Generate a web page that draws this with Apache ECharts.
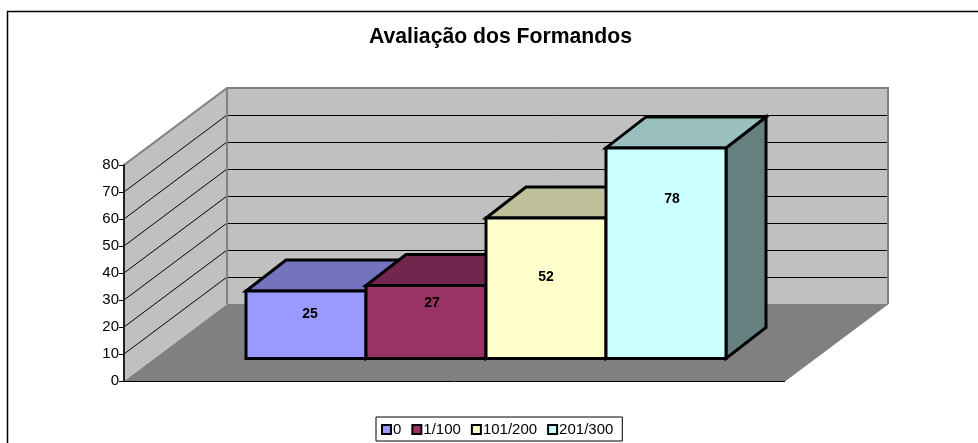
<!DOCTYPE html>
<html>
<head>
<meta charset="utf-8">
<style>
  html, body { margin: 0; padding: 0; background: #fff; }
  #chart { width: 978px; height: 443px; }
</style>
<script src="https://cdn.jsdelivr.net/npm/echarts@6/dist/echarts.min.js"></script>
</head>
<body>
<div id="chart"></div>
<script>
  var categories = ['Formandos']
  var seriesNames = ['0', '1/100', '101/200', '201/300']
  var seriesValues = [[25], [27], [52], [78]]
  var faceColors = ['#9999ff', '#993366', '#ffffcc', '#ccffff']
  var topColors = ['#7373bf', '#73264d', '#bfbf99', '#99bfbf']
  var sideColors = ['#666699', '#662244', '#808066', '#668080']
  var yTicks = [0, 10, 20, 30, 40, 50, 60, 70, 80]

  var font = '"Liberation Sans", Arial, sans-serif'
  // 3d offsets, px
  var wallDx = 103, wallDy = -77
  var baseDx = 31.5, baseDy = -22.5
  var depthDx = 40, depthDy = -31
  var barWidth = 120
  // onde fica o rotulo de cada barra, a partir do centro do topo
  var labelDx = [4, 6, 0, 6]
  var labelDy = [23, 17.5, 59, 51.5]

  function snap(v) {
    return Math.floor(v) + 0.5
  }
  function line(x1, y1, x2, y2, color, width) {
    return {
      type: 'line',
      shape: { x1: x1, y1: y1, x2: x2, y2: y2 },
      style: { stroke: color, lineWidth: width }
    }
  }
  function poly(points, fill, stroke, width) {
    return {
      type: 'polygon',
      shape: { points: points },
      style: { fill: fill, stroke: stroke, lineWidth: width, lineJoin: 'miter' }
    }
  }

  // paredes e chao
  function renderWalls(params, api) {
    var c = params.coordSys
    var left = c.x, right = c.x + c.width
    var y0 = api.coord([0, 0])[1]
    var yMax = api.coord([0, yTicks[yTicks.length - 1]])[1]
    var kids = []
    kids.push(poly([[left, y0], [left + wallDx, y0 + wallDy], [right + wallDx, y0 + wallDy], [right, y0]], '#808080', 'none', 0))
    kids.push(poly([[left, y0], [left, yMax], [left + wallDx, yMax + wallDy], [left + wallDx, y0 + wallDy]], '#c0c0c0', 'none', 0))
    kids.push(poly([[left + wallDx, y0 + wallDy], [left + wallDx, yMax + wallDy], [right + wallDx, yMax + wallDy], [right + wallDx, y0 + wallDy]], '#c0c0c0', 'none', 0))
    yTicks.forEach(function(t) {
      if (t === 0 || t === yTicks[yTicks.length - 1]) return
      var y = api.coord([0, t])[1]
      kids.push(line(left, y, left + wallDx, y + wallDy, '#000', 1))
      kids.push(line(left + wallDx, snap(y + wallDy), right + wallDx, snap(y + wallDy), '#000', 1))
    })
    // contorno cinza
    kids.push({
      type: 'polyline',
      shape: { points: [[left, y0], [left, yMax], [left + wallDx, yMax + wallDy], [right + wallDx, yMax + wallDy], [right + wallDx, y0 + wallDy]] },
      style: { fill: 'none', stroke: '#808080', lineWidth: 2 }
    })
    kids.push(line(left + wallDx, yMax + wallDy, left + wallDx, y0 + wallDy, '#808080', 2))
    kids.push(line(left, snap(y0), right, snap(y0), '#000', 1))
    kids.push(line(right, y0, right + wallDx, y0 + wallDy, '#808080', 1))
    return { type: 'group', children: kids }
  }

  function makeBar(idx) {
    return function(params, api) {
      var v = api.value(1)
      var p0 = api.coord([0, 0]), p1 = api.coord([0, v])
      var total = barWidth * seriesNames.length
      var x0 = p0[0] + baseDx - total / 2 + idx * barWidth
      var x1 = x0 + barWidth
      var yb = p0[1] + baseDy, yt = p1[1] + baseDy
      var lw = 3
      return {
        type: 'group',
        children: [
          poly([[x1, yb], [x1, yt], [x1 + depthDx, yt + depthDy], [x1 + depthDx, yb + depthDy]], sideColors[idx], '#000', lw),
          poly([[x0, yt], [x1, yt], [x1 + depthDx, yt + depthDy], [x0 + depthDx, yt + depthDy]], topColors[idx], '#000', lw),
          poly([[x0, yb], [x0, yt], [x1, yt], [x1, yb]], faceColors[idx], '#000', lw),
          {
            type: 'text',
            z2: 100,
            style: {
              x: (x0 + x1) / 2 + labelDx[idx], y: yt + labelDy[idx],
              text: String(v), fill: '#000', align: 'center', verticalAlign: 'middle',
              font: 'bold 14px ' + font
            }
          }
        ]
      }
    }
  }

  var series = [{
    type: 'custom',
    silent: true,
    renderItem: renderWalls,
    data: [[0, 0]],
    encode: { x: 0, y: 1 },
    legendHoverLink: false
  }]
  seriesNames.forEach(function(name, i) {
    series.push({
      type: 'custom',
      name: name,
      renderItem: makeBar(i),
      encode: { x: 0, y: 1 },
      itemStyle: { color: faceColors[i], borderColor: '#000', borderWidth: 2 },
      data: [[0, seriesValues[i][0]]]
    })
  })

  var chart = echarts.init(document.getElementById('chart'), null, { renderer: 'canvas' })
  chart.setOption({
    animation: false,
    backgroundColor: '#fff',
    title: {
      text: 'Avaliação dos Formandos',
      left: 369,
      top: 27,
      padding: 0,
      textStyle: { fontFamily: font, fontWeight: 'bold', fontSize: 21.2, color: '#000' }
    },
    legend: {
      data: seriesNames,
      left: 376,
      top: 417,
      itemWidth: 9,
      itemHeight: 9,
      itemGap: 10,
      padding: [5, 9, 4, 5],
      borderColor: '#000',
      borderWidth: 1,
      borderRadius: 0,
      icon: 'rect',
      selectedMode: false,
      textStyle: { fontFamily: font, fontSize: 15, color: '#000', padding: [0, 0, 0, -3] }
    },
    grid: { left: 124, right: 193, top: 165, bottom: 62, containLabel: false },
    xAxis: {
      type: 'category',
      data: categories,
      axisLine: { show: false },
      axisTick: { show: false },
      axisLabel: { show: false }
    },
    yAxis: {
      type: 'value',
      z: 5,
      min: 0,
      max: 80,
      interval: 10,
      axisLine: { show: true, lineStyle: { color: '#000', width: 1.5 } },
      axisTick: { show: true, length: 5, lineStyle: { color: '#000' } },
      axisLabel: { fontFamily: font, fontSize: 15, color: '#000', margin: 5 },
      splitLine: { show: false }
    },
    graphic: [
      { type: 'polyline', shape: { points: [[7.5, 443], [7.5, 11.5], [978, 11.5]] }, style: { fill: 'none', stroke: '#000', lineWidth: 1.5 }, silent: true }
    ],
    series: series
  })
</script>
</body>
</html>
